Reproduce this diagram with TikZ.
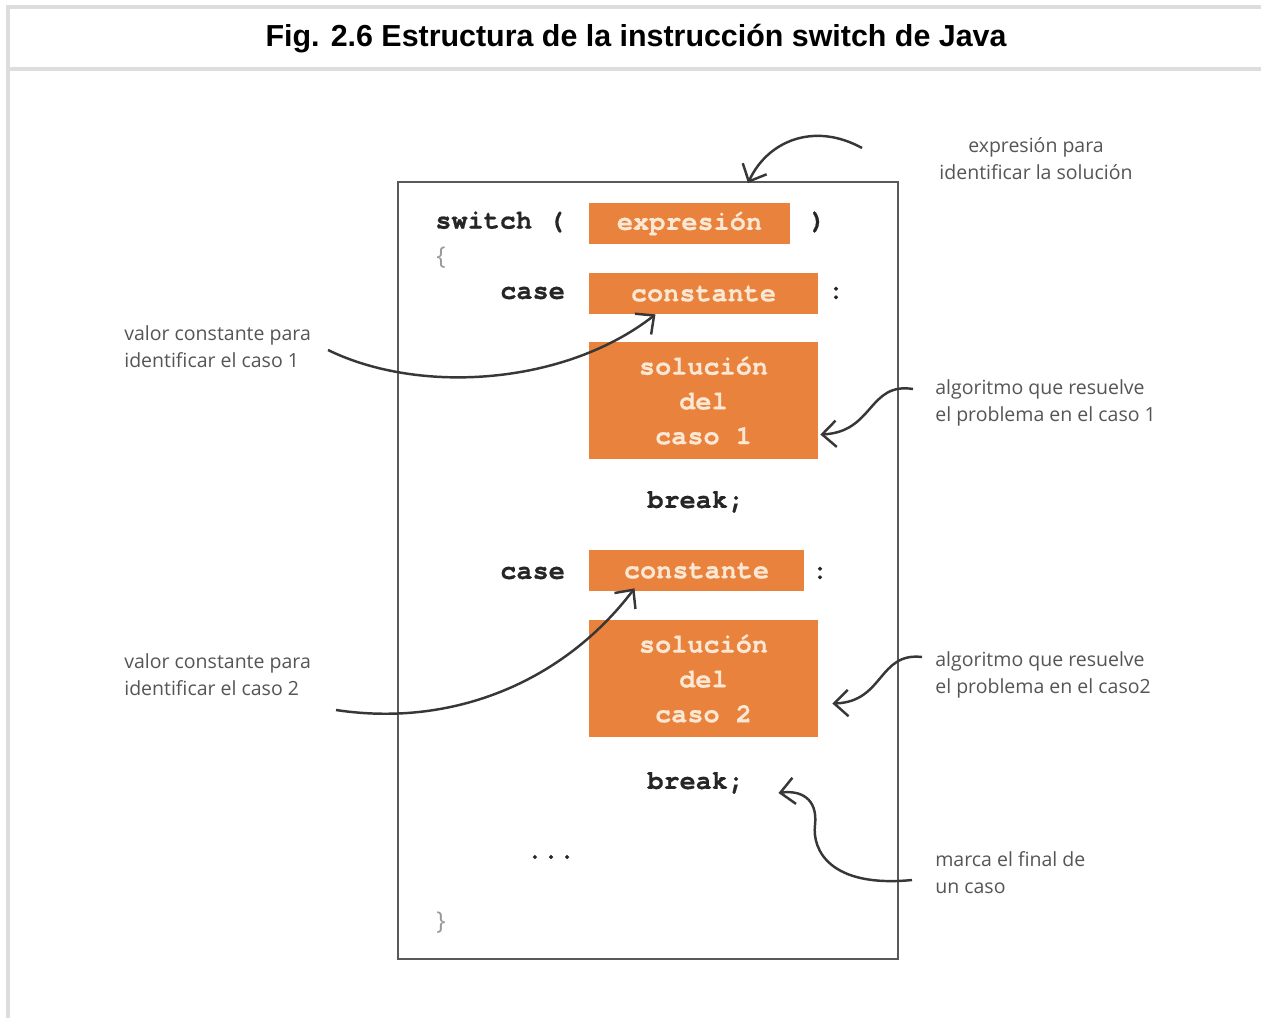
\documentclass[tikz,border=0pt]{standalone}
\usepackage{fontspec}
\setmainfont{Liberation Sans}
\setmonofont{texgyrecursor}[Extension=.otf, UprightFont=*-regular, BoldFont=*-bold, BoldFeatures={FakeBold=0.6}]
\newfontfamily\notefont{Open Sans}
\usetikzlibrary{arrows.meta,calc}
\definecolor{codeorange}{RGB}{233,130,61}
\definecolor{boxtext}{RGB}{251,232,212}
\definecolor{framegray}{RGB}{221,221,221}
\definecolor{notegray}{RGB}{85,85,85}
\definecolor{arrowgray}{RGB}{55,55,55}
\tikzset{
	code/.style={font=\ttfamily\bfseries\fontsize{15.3}{19.8}\selectfont, text=black!85, inner sep=0pt},
	orangebox/.style={fill=codeorange, text=boxtext, font=\ttfamily\bfseries\fontsize{15.3}{19.8}\selectfont, inner sep=0pt, minimum height=0.82cm, align=center},
	note/.style={font=\notefont\fontsize{11.1}{15.3}\selectfont, text=notegray, inner sep=0pt, align=left},
	pointer/.style={-{Straight Barb[length=8pt,width=15pt]}, line width=1.4pt, arrowgray}
}
\begin{document}
\begin{tikzpicture}[x=0.02cm, y=-0.02cm]
	\useasboundingbox (0,0) rectangle (1261,1018);
	
	% ================= 外框与标题 =================
	\draw[framegray, line width=1.8pt] (8,1018) -- (8,7) -- (1261,7);
	\draw[framegray, line width=1.8pt] (8,69) -- (1261,69);
	\node[font=\bfseries\fontsize{17.3}{17.3}\selectfont, inner sep=0pt] (title) at (636,39) {Fig. 2.6 Estructura de la instrucción switch de Java};
	
	% ================= 代码框 =================
	\node[draw=black!65, line width=1.1pt, minimum width=10cm, minimum height=15.54cm, inner sep=0pt] (frame) at (648,570.5) {};
	
	\node[code, anchor=west] (sw) at (435,222) {switch (};
	\node[orangebox, minimum width=4.02cm] (expr) at (689.5,223.5) {expresión};
	\node[code] (rparen) at (818,222) {)};
	\node[note, font=\notefont\fontsize{14}{14}\selectfont, text=black!40] (lbrace) at (441,258) {\{};
	
	% case 1
	\node[code, anchor=west] (case1) at (500,293) {case};
	\node[orangebox, minimum width=4.58cm] (const1) at (703.5,293.5) {constante};
	\node[code] (colon1) at (836,293) {:};
	\node[orangebox, minimum width=4.58cm, minimum height=2.34cm] (sol1) at (703.5,400.5) {solución\\del\\caso 1};
	\node[code, anchor=west] (brk1) at (647,502) {break;};
	
	% case 2
	\node[code, anchor=west] (case2) at (500,573) {case};
	\node[orangebox, minimum width=4.30cm] (const2) at (696.5,570.5) {constante};
	\node[code] (colon2) at (820,573) {:};
	\node[orangebox, minimum width=4.58cm, minimum height=2.34cm] (sol2) at (703.5,678.5) {solución\\del\\caso 2};
	\node[code, anchor=west] (brk2) at (647,783) {break;};
	
	\node[code] (dots) at (551,857) {...};
	\node[note, font=\notefont\fontsize{14}{14}\selectfont, text=black!40] (rbrace) at (441,923) {\}};
	
	% ================= 注释 =================
	\node[note, align=center] (nexpr) at (1036,159) {expresión para\\identificar la solución};
	\node[note, anchor=west] (nconst1) at (124,346.5) {valor constante para\\identificar el caso 1};
	\node[note, anchor=west] (nsol1) at (935,402.5) {algoritmo que resuelve\\el problema en el caso 1};
	\node[note, anchor=west] (nconst2) at (124,674.5) {valor constante para\\identificar el caso 2};
	\node[note, anchor=west] (nsol2) at (935,674.5) {algoritmo que resuelve\\el problema en el caso2};
	\node[note, anchor=west] (nbrk) at (935,873) {marca el final de\\un caso};
	
	% 箭头起点
	\coordinate (s1) at (862,148);
	\coordinate (s2) at (328,350);
	\coordinate (s3) at (913,389);
	\coordinate (s4) at (336,710);
	\coordinate (s5) at (922,657);
	\coordinate (s6) at (912,880);
	
	\draw[pointer] (s1) .. controls (815,122) and (768,140) .. ($(frame.north)+(100,2)$);
	\draw[pointer] (s2) .. controls (420,395) and (565,385) .. ($(const1.south)+(-48,0)$);
	\draw[pointer] (s3) .. controls (868,382) and (874,432) .. ($(sol1.east)+(2,34)$);
	\draw[pointer] (s4) .. controls (455,728) and (565,680) .. ($(const2.south)+(-62,-3)$);
	\draw[pointer] (s5) .. controls (878,652) and (884,702) .. ($(sol2.east)+(14,25)$);
	\draw[pointer] (s6) .. controls (830,888) and (812,850) .. (815,825) .. controls (818,798) and (800,790) .. ($(brk2.east)+(34,10)$);
	
\end{tikzpicture}
\end{document}
